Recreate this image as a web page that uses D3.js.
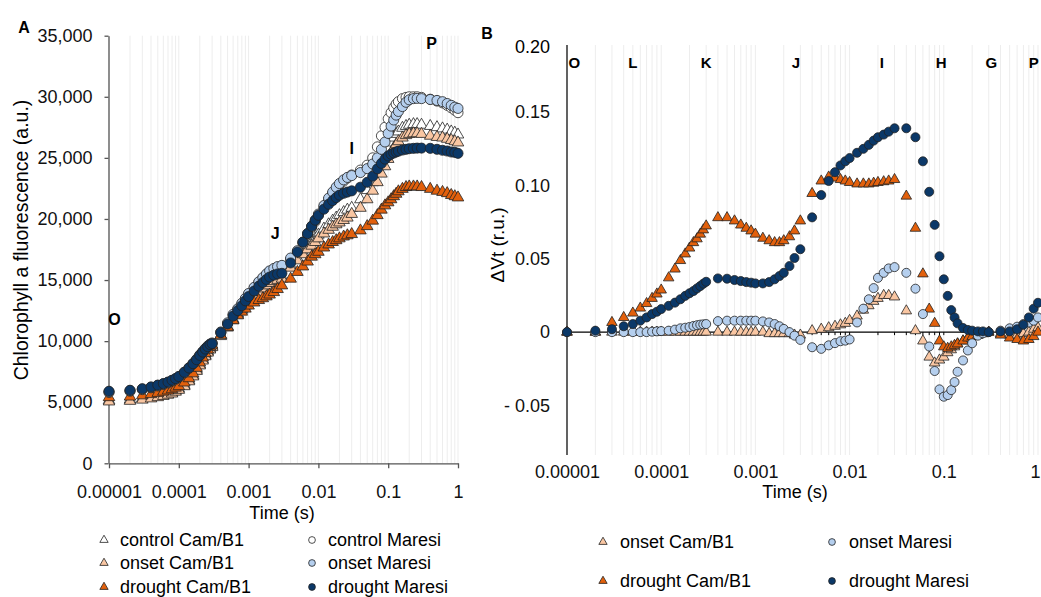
<!DOCTYPE html>
<html><head><meta charset="utf-8">
<script src="https://cdn.jsdelivr.net/npm/d3@7"></script>
<style>
body{margin:0;background:#fff}
svg{font-family:"Liberation Sans",Arial,sans-serif}
</style>
</head><body>
<svg id="c" width="1041" height="597"></svg>
<script>
// ---------- data ----------
const timeS = [0.00001,0.00002,0.00003,0.00004,0.00005,0.00006,0.00007,0.00008,0.00009,0.0001,
0.00012,0.00014,0.00016,0.00018,0.0002,0.00022,0.00024,0.00026,0.00028,0.0003,
0.0004,0.0005,0.0006,0.0007,0.0008,0.0009,0.001,0.0012,0.0014,0.0016,
0.0018,0.002,0.0023,0.0026,0.003,
0.004,0.005,0.006,0.007,0.008,0.009,0.01,0.012,0.014,0.016,
0.018,0.02,0.023,0.026,0.03,
0.04,0.05,0.06,0.07,0.08,0.09,0.1,0.11,0.12,0.13,
0.14,0.16,0.18,0.2,0.23,0.26,0.3,
0.4,0.5,0.6,0.7,0.8,0.9,1];

const xTickValues = [0.00001,0.0001,0.001,0.01,0.1,1];
const xTickLabels = ["0.00001","0.0001","0.001","0.01","0.1","1"];
const yTicksA = [0,5000,10000,15000,20000,25000,30000,35000];
const yTicksB = [-0.05,0,0.05,0.10,0.15];
const yTopLabelB = "0.20";

// Panel A: chlorophyll a fluorescence (a.u.)
const aControlCam = [5150,5200,5300,5400,5500,5600,5700,5800,5950,6100,6400,6800,7200,7650,8100,8500,8850,9150,9400,9600,
10500,11200,11800,12250,12650,13000,13300,13750,14100,14400,14650,14850,15000,15150,15250,
16200,16800,17300,17700,18100,18400,18700,19200,19550,19850,20100,20300,20550,20750,20900,
21600,22350,23000,23800,24500,25150,25750,26250,26650,26950,27150,27450,27600,27700,27750,27750,27700,
27600,27500,27400,27300,27150,27050,26900];
const aOnsetCam = [5050,5100,5200,5300,5400,5500,5600,5700,5850,6000,6300,6700,7100,7550,8000,8400,8750,9050,9300,9500,
10400,11100,11700,12150,12550,12900,13200,13650,14000,14300,14550,14750,14900,15000,15100,
16000,16600,17100,17500,17800,18100,18400,18800,19100,19350,19550,19700,19900,20100,20400,
20900,21600,22300,23000,23700,24300,24900,25400,25800,26100,26350,26650,26850,26950,27000,27000,26950,
26800,26700,26650,26550,26450,26350,26250];
const aDroughtCam = [5400,5450,5550,5650,5750,5850,5950,6050,6180,6300,6600,6950,7350,7800,8250,8650,9000,9300,9550,9700,
10500,11150,11700,12100,12400,12650,12900,13150,13350,13500,13650,13800,14000,14250,14550,
15100,15650,16100,16500,16900,17100,17300,17650,17900,18100,18250,18400,18550,18650,18750,
19050,19400,19850,20300,20750,21100,21350,21600,21850,22050,22250,22450,22600,22650,22650,22650,22600,
22450,22300,22200,22100,21950,21850,21750];
const aControlMaresi = [5800,5900,6030,6180,6330,6450,6580,6730,6870,7050,7400,7770,8130,8470,8820,9100,9350,9550,9720,9800,
10700,11450,12150,12600,13050,13450,13850,14350,14800,15150,15450,15700,15900,16050,16150,
16700,17300,18000,18700,19300,19800,20300,21000,21600,22100,22500,22800,23100,23350,23600,
24000,24400,25000,25900,26800,27500,28200,28700,29100,29400,29600,29850,29950,30000,30000,30000,29950,
29800,29650,29500,29300,29100,28900,28700];
const aOnsetMaresi = [5850,5950,6080,6230,6380,6500,6630,6780,6920,7100,7450,7820,8180,8520,8870,9150,9400,9600,9760,9850,
10750,11500,12200,12650,13100,13500,13900,14400,14850,15200,15500,15750,15950,16100,16200,
16800,17400,18100,18800,19400,19900,20400,21100,21700,22200,22600,22900,23200,23400,23550,
23800,24120,24500,25000,25700,26300,27000,27600,28100,28500,28800,29200,29550,29750,29850,29870,29850,
29780,29700,29600,29450,29300,29150,29050];
const aDroughtMaresi = [5900,5980,6100,6250,6400,6520,6650,6800,6930,7100,7450,7800,8150,8480,8830,9100,9350,9550,9720,9800,
10700,11400,12050,12500,12900,13300,13650,14100,14500,14800,15050,15250,15400,15500,15550,
16400,17300,18100,18800,19400,19900,20300,20800,21200,21500,21750,21950,22100,22200,22300,
22600,23000,23500,24100,24550,24900,25150,25300,25400,25480,25550,25640,25700,25750,25780,25800,25800,
25780,25700,25620,25560,25480,25450,25370];

// Panel B: delta Vt (r.u.)
const bOnsetCam = [0,0,0,0,0,0,0,0,0,0,0,0,0,0,0,0,0,0,0,0,
0,0,0,0,0,0,0,0,-0.001,-0.001,-0.001,-0.001,-0.001,-0.002,-0.002,
0.001,0.002,0.003,0.004,0.005,0.006,0.008,0.011,0.015,0.018,0.021,0.023,0.025,0.025,0.024,
0.0145,0.001,-0.006,-0.017,-0.021,-0.019,-0.017,-0.014,-0.012,-0.010,-0.008,-0.006,-0.004,-0.003,-0.002,-0.001,0,
-0.001,-0.002,-0.002,-0.001,0,0.002,0.003];
const bDroughtCam = [0,0,0.0066,0.010,0.013,0.0164,0.0195,0.023,0.026,0.0287,0.037,0.043,0.0488,0.0533,0.0573,0.061,0.0636,0.0668,0.0697,0.0724,
0.078,0.078,0.0758,0.073,0.0708,0.069,0.0668,0.064,0.0623,0.061,0.061,0.0623,0.065,0.069,0.0758,
0.0945,0.103,0.1057,0.105,0.104,0.103,0.102,0.101,0.101,0.101,0.1015,0.102,0.1025,0.103,0.104,
0.0927,0.0708,0.0397,0.0157,0.006,-0.006,-0.010,-0.011,-0.010,-0.009,-0.008,-0.006,-0.004,-0.003,-0.002,-0.001,0,
-0.002,-0.004,-0.005,-0.006,-0.005,-0.003,0];
const bOnsetMaresi = [0,0,0,0,0,0,0,0.0003,0.0005,0.0007,0.001,0.0017,0.0026,0.003,0.0035,0.0042,0.0047,0.0051,0.0053,0.0055,
0.0075,0.0078,0.0078,0.0078,0.0078,0.0078,0.0078,0.0073,0.0066,0.0055,0.004,0.0022,0,-0.0024,-0.0053,
-0.0103,-0.0114,-0.009,-0.0075,-0.0062,-0.0058,-0.005,0.0066,0.016,0.0224,0.030,0.037,0.0404,0.0434,0.0443,
0.0404,0.0296,0.0123,-0.0098,-0.0265,-0.039,-0.044,-0.0429,-0.0395,-0.034,-0.027,-0.0193,-0.0125,-0.0076,-0.0024,-0.0008,0,
0.001,0.0026,0.0037,0.0055,0.0066,0.0078,0.010];
const bDroughtMaresi = [0,0.001,0.002,0.004,0.0055,0.0078,0.010,0.0123,0.0139,0.0157,0.0179,0.0201,0.0224,0.0247,0.0265,0.028,0.0298,0.0314,0.033,0.0343,
0.0366,0.0364,0.0355,0.0348,0.0341,0.0337,0.0332,0.0332,0.0341,0.036,0.0382,0.0404,0.045,0.0505,0.0565,
0.0782,0.0934,0.103,0.109,0.1136,0.1164,0.1186,0.1222,0.1249,0.1276,0.1305,0.1328,0.1346,0.1366,0.1389,
0.1389,0.1328,0.1164,0.0956,0.0731,0.0517,0.036,0.0247,0.015,0.010,0.006,0.0028,0.0015,0.001,0.0005,0.0005,0,
0.0005,0.0005,0.002,0.005,0.010,0.016,0.020];

const phasesA = [{t:0.000012,v:11800,l:"O"},{t:0.0024,v:18850,l:"J"},{t:0.03,v:25800,l:"I"},{t:0.42,v:34400,l:"P"}];
const phasesB = [{t:0.000012,l:"O"},{t:0.00005,l:"L"},{t:0.0003,l:"K"},{t:0.0027,l:"J"},{t:0.022,l:"I"},{t:0.094,l:"H"},{t:0.32,l:"G"},{t:0.9,l:"P"}];

// ---------- style ----------
const C = {white:"#ffffff", peach:"#f9c6a2", orange:"#e2600c", lblue:"#b5cfee", navy:"#0b3868", edge:"#222"};
const FONT = '"Liberation Sans",Arial,sans-serif';
const svg = d3.select("#c");
const tri = d3.symbolTriangle, cir = d3.symbolCircle;

function minorTicks(){ const a=[]; for(let e=-5;e<0;e++) for(let m=1;m<10;m++) a.push(+(m*Math.pow(10,e)).toPrecision(3)); a.push(1); return a; }
const gridT = minorTicks();

// ================= Panel A =================
const xA = d3.scaleLog().domain([1e-5,1]).range([109,458]);
const yA = d3.scaleLinear().domain([0,35000]).range([463.3,35.7]);
const gA = svg.append("g");
gA.selectAll("line.grid").data(gridT).join("line")
  .attr("x1",d=>xA(d)).attr("x2",d=>xA(d)).attr("y1",yA(35000)).attr("y2",yA(0))
  .attr("stroke","#ededed").attr("stroke-width",1);

const axYA = gA.append("g").attr("transform","translate(108.5,0)")
  .call(d3.axisLeft(yA).tickValues(yTicksA).tickFormat(d3.format(",")).tickSize(4).tickPadding(12).tickSizeOuter(0));
const axXA = gA.append("g").attr("transform","translate(0,463.3)")
  .call(d3.axisBottom(xA).tickValues(xTickValues).tickFormat((d,i)=>xTickLabels[i]).tickSize(5).tickPadding(17).tickSizeOuter(0));
[axYA,axXA].forEach(a=>{a.select(".domain").attr("stroke","#555").attr("stroke-width",1.3);
  a.selectAll(".tick line").attr("stroke","#555").attr("stroke-width",1.3);
  a.selectAll("text").attr("font-size",18).attr("fill","#111").attr("font-family",FONT);});

const seriesA = [
  {v:aControlCam, s:tri, f:C.white},
  {v:aOnsetCam, s:tri, f:C.peach},
  {v:aDroughtCam, s:tri, f:C.orange},
  {v:aControlMaresi, s:cir, f:C.white},
  {v:aOnsetMaresi, s:cir, f:C.lblue},
  {v:aDroughtMaresi, s:cir, f:C.navy}];
seriesA.forEach(se=>{
  const sym = d3.symbol().type(se.s).size(se.s===tri?58:80);
  gA.append("g").selectAll("path").data(timeS.map((t,i)=>[t,se.v[i]])).join("path")
    .attr("d",sym).attr("transform",d=>`translate(${xA(d[0])},${yA(d[1])})`)
    .attr("fill",se.f).attr("stroke",C.edge).attr("stroke-width",0.8);
});
gA.selectAll("text.ph").data(phasesA).join("text").attr("class","ph")
  .attr("x",d=>xA(d.t)).attr("y",d=>yA(d.v)).attr("text-anchor","middle").attr("dy","0.36em")
  .attr("font-weight","bold").attr("font-size",16).text(d=>d.l);
gA.append("text").attr("x",24).attr("y",33).attr("text-anchor","middle").attr("font-weight","bold").attr("font-size",16).text("A");
gA.append("text").attr("transform","translate(28,240) rotate(-90)").attr("text-anchor","middle").attr("font-size",19.5)
  .text("Chlorophyll a fluorescence (a.u.)");
gA.append("text").attr("x",282).attr("y",519).attr("text-anchor","middle").attr("font-size",18).text("Time (s)");

const legA = [
  {l:"control Cam/B1", s:tri, f:C.white, x:104, y:540},
  {l:"onset Cam/B1", s:tri, f:C.peach, x:104, y:563},
  {l:"drought Cam/B1", s:tri, f:C.orange, x:104, y:587},
  {l:"control Maresi", s:cir, f:C.white, x:312, y:540},
  {l:"onset Maresi", s:cir, f:C.lblue, x:312, y:563},
  {l:"drought Maresi", s:cir, f:C.navy, x:312, y:587}];
legA.forEach(d=>{
  gA.append("path").attr("d",d3.symbol().type(d.s).size(d.s===tri?30:36)()).attr("transform",`translate(${d.x},${d.y})`)
    .attr("fill",d.f).attr("stroke",C.edge).attr("stroke-width",0.8);
  gA.append("text").attr("x",d.x+16).attr("y",d.y).attr("dy","0.35em").attr("font-size",18).text(d.l);
});

// ================= Panel B =================
const xB = d3.scaleLog().domain([1e-5,1]).range([567,1038]);
const yB = d3.scaleLinear().domain([-0.05,0.15]).range([405.5,112]);
const topB = 45, botB = 455;
const gB = svg.append("g");
gB.selectAll("line.grid").data(gridT).join("line")
  .attr("x1",d=>xB(d)).attr("x2",d=>xB(d)).attr("y1",topB).attr("y2",botB)
  .attr("stroke","#ededed").attr("stroke-width",1);
// y axis
const axYB = gB.append("g").attr("transform","translate(567,0)")
  .call(d3.axisLeft(yB).tickValues(yTicksB).tickSize(0).tickPadding(17)
    .tickFormat(d=> d<0 ? "- "+d3.format(".2f")(-d) : (d===0 ? "0" : d3.format(".2f")(d))));
axYB.select(".domain").remove();
axYB.selectAll("text").attr("font-size",18).attr("fill","#111").attr("font-family",FONT);
gB.append("text").attr("x",550).attr("y",topB+2).attr("dy","0.32em").attr("text-anchor","end").attr("font-size",18).text(yTopLabelB);
gB.append("line").attr("x1",567).attr("x2",567).attr("y1",topB).attr("y2",botB).attr("stroke","#000").attr("stroke-width",1.2);
// zero line with minor ticks
gB.append("line").attr("x1",567).attr("x2",1041).attr("y1",yB(0)).attr("y2",yB(0)).attr("stroke","#000").attr("stroke-width",1.2);
gB.selectAll("line.mt").data(gridT).join("line").attr("class","mt")
  .attr("x1",d=>xB(d)).attr("x2",d=>xB(d)).attr("y1",yB(0)).attr("y2",yB(0)+3).attr("stroke","#000").attr("stroke-width",1);
// x labels (low position)
const axXB = gB.append("g").attr("transform","translate(0,457)")
  .call(d3.axisBottom(xB).tickValues(xTickValues).tickFormat((d,i)=>xTickLabels[i]).tickSize(0).tickPadding(8));
axXB.select(".domain").remove();
axXB.selectAll("text").attr("font-size",18).attr("fill","#111").attr("font-family",FONT)
  .attr("dx",(d,i)=> i===xTickValues.length-1 ? "-3" : null);

const seriesB = [
  {v:bOnsetCam, s:tri, f:C.peach},
  {v:bDroughtCam, s:tri, f:C.orange},
  {v:bOnsetMaresi, s:cir, f:C.lblue},
  {v:bDroughtMaresi, s:cir, f:C.navy}];
seriesB.forEach(se=>{
  const sym = d3.symbol().type(se.s).size(se.s===tri?48:64);
  gB.append("g").selectAll("path").data(timeS.map((t,i)=>[t,se.v[i]])).join("path")
    .attr("d",sym).attr("transform",d=>`translate(${xB(d[0])},${yB(d[1])})`)
    .attr("fill",se.f).attr("stroke",C.edge).attr("stroke-width",0.8);
});
gB.selectAll("text.ph").data(phasesB).join("text").attr("class","ph")
  .attr("x",d=>xB(d.t)).attr("y",63).attr("text-anchor","middle").attr("dy","0.36em")
  .attr("font-weight","bold").attr("font-size",15).text(d=>d.l);
gB.append("text").attr("x",487).attr("y",39).attr("text-anchor","middle").attr("font-weight","bold").attr("font-size",16).text("B");
gB.append("text").attr("transform","translate(504,245) rotate(-90)").attr("text-anchor","middle").attr("font-size",19).text("ΔVt (r.u.)");
gB.append("text").attr("x",795).attr("y",498).attr("text-anchor","middle").attr("font-size",18).text("Time (s)");

const legB = [
  {l:"onset Cam/B1", s:tri, f:C.peach, x:603, y:542},
  {l:"drought Cam/B1", s:tri, f:C.orange, x:603, y:581},
  {l:"onset Maresi", s:cir, f:C.lblue, x:832, y:542},
  {l:"drought Maresi", s:cir, f:C.navy, x:832, y:581}];
legB.forEach(d=>{
  gB.append("path").attr("d",d3.symbol().type(d.s).size(d.s===tri?30:36)()).attr("transform",`translate(${d.x},${d.y})`)
    .attr("fill",d.f).attr("stroke",C.edge).attr("stroke-width",0.8);
  gB.append("text").attr("x",d.x+17).attr("y",d.y).attr("dy","0.35em").attr("font-size",18).text(d.l);
});
</script>
</body></html>
